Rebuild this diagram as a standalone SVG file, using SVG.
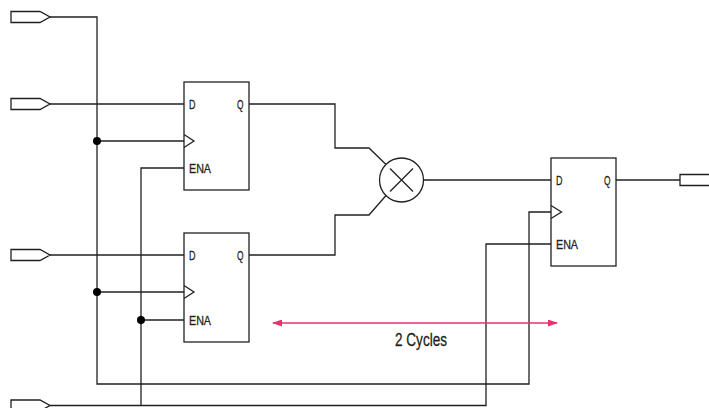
<svg xmlns="http://www.w3.org/2000/svg" width="709" height="408" viewBox="0 0 709 408">
<defs>
<style>
.w{fill:none;stroke:#231f20;stroke-width:1.3}
.box{fill:#fff;stroke:#231f20;stroke-width:1.3}
.pin{fill:#fff;stroke:#231f20;stroke-width:1.3}
.dot{fill:#000}
.lbl{font-family:"Liberation Sans",Arial,sans-serif;font-size:13px;fill:#231f20;stroke:#231f20;stroke-width:0.3}
.ann{font-family:"Liberation Sans",Arial,sans-serif;font-size:18px;fill:#231f20;stroke:#231f20;stroke-width:0.3}
.red{fill:none;stroke:#e5336b;stroke-width:1.4}
</style>
<marker id="ah" viewBox="0 0 10 7" refX="9" refY="3.5" markerWidth="10" markerHeight="7" markerUnits="userSpaceOnUse" orient="auto-start-reverse">
<path d="M0,0 L10,3.5 L0,7 Z" fill="#e5336b"/>
</marker>
</defs>
<rect width="709" height="408" fill="#fff"/>
<g id="connectors">
<path class="w" d="M50,17 H97 V384 H529 V212 H551"/>
<path class="w" d="M97,141 H184"/>
<path class="w" d="M97,292 H184"/>
<path class="w" d="M50,104 H184"/>
<path class="w" d="M50,255 H184"/>
<path class="w" d="M50,405.5 H486 V244 H551"/>
<path class="w" d="M184,168 H141 V405.5"/>
<path class="w" d="M141,320 H184"/>
<path class="w" d="M249,104 H335 V148 H369 L386,164.5"/>
<path class="w" d="M249,255 H335 V215 H369 L386,195.5"/>
<path class="w" d="M423.5,180 H551"/>
<path class="w" d="M616,180 H680"/>
<circle class="dot" cx="97" cy="141" r="4"/>
<circle class="dot" cx="97" cy="292" r="4"/>
<circle class="dot" cx="141" cy="320" r="4"/>
</g>
<g id="in1"><polygon class="pin" points="11,11.5 40,11.5 50,17 40,22.5 11,22.5"/></g>
<g id="in2"><polygon class="pin" points="11,98.5 40,98.5 50,104 40,109.5 11,109.5"/></g>
<g id="in3"><polygon class="pin" points="11,249.5 40,249.5 50,255 40,260.5 11,260.5"/></g>
<g id="in4"><polygon class="pin" points="11,400 40,400 50,405.5 40,411 11,411"/></g>
<g id="out"><polygon class="pin" points="680,174.5 712,174.5 712,185.5 680,185.5"/></g>
<g id="ff1">
<rect class="box" x="184" y="82" width="65" height="108"/>
<polyline class="w" points="184,134.5 194,141 184,147.5"/>
<text class="lbl" x="189" y="109" textLength="6.5" lengthAdjust="spacingAndGlyphs">D</text>
<text class="lbl" x="237" y="109" textLength="6.5" lengthAdjust="spacingAndGlyphs">Q</text>
<text class="lbl" x="189" y="173" textLength="22" lengthAdjust="spacingAndGlyphs">ENA</text>
</g>
<g id="ff2">
<rect class="box" x="184" y="233" width="65" height="109"/>
<polyline class="w" points="184,285.5 194,292 184,298.5"/>
<text class="lbl" x="189" y="260" textLength="6.5" lengthAdjust="spacingAndGlyphs">D</text>
<text class="lbl" x="237" y="260" textLength="6.5" lengthAdjust="spacingAndGlyphs">Q</text>
<text class="lbl" x="189" y="325" textLength="22" lengthAdjust="spacingAndGlyphs">ENA</text>
</g>
<g id="mult">
<circle class="box" cx="401.5" cy="180" r="22"/>
<path class="w" d="M390,168.5 L413,191.5 M413,168.5 L390,191.5"/>
</g>
<g id="ff3">
<rect class="box" x="551" y="158" width="65" height="108"/>
<polyline class="w" points="551,205.5 561.5,212 551,218.5"/>
<text class="lbl" x="556" y="185" textLength="6.5" lengthAdjust="spacingAndGlyphs">D</text>
<text class="lbl" x="604" y="185" textLength="6.5" lengthAdjust="spacingAndGlyphs">Q</text>
<text class="lbl" x="556" y="249" textLength="22" lengthAdjust="spacingAndGlyphs">ENA</text>
</g>
<g id="cycles">
<line class="red" x1="273" y1="323" x2="557" y2="323" marker-start="url(#ah)" marker-end="url(#ah)"/>
<text class="ann" x="395" y="346" textLength="52" lengthAdjust="spacingAndGlyphs">2 Cycles</text>
</g>
</svg>
